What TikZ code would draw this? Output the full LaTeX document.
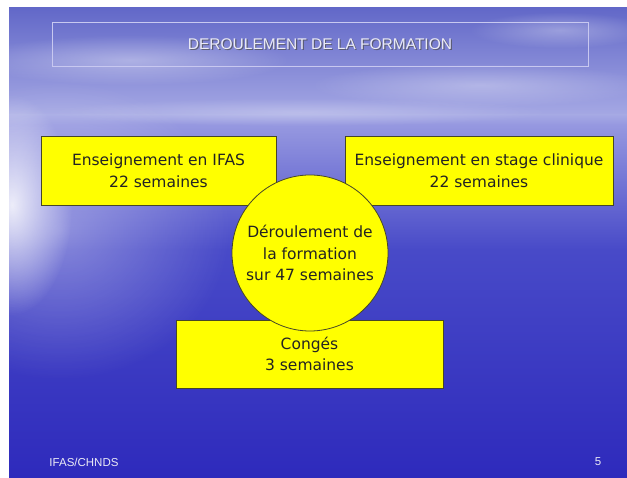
\documentclass[tikz,border=0pt]{standalone}
\usepackage{fontspec}
\setmainfont{DejaVu Sans}
\newfontfamily\arialf{Liberation Sans}
\usetikzlibrary{fadings,shadows}
\definecolor{skytop}{RGB}{98,104,200}
\definecolor{skyhor}{RGB}{165,168,228}
\definecolor{watertop}{RGB}{150,152,224}
\definecolor{watermid}{RGB}{72,74,200}
\definecolor{waterbot}{RGB}{46,42,188}
\definecolor{boxyellow}{RGB}{255,255,0}
\definecolor{boxedge}{RGB}{70,70,40}
\definecolor{txtdark}{RGB}{35,35,35}
\definecolor{titlecol}{RGB}{235,235,245}
\definecolor{frame}{RGB}{200,200,240}
\tikzfading[name=fuzzcirc, inner color=transparent!0, outer color=transparent!100]
\tikzset{
  yellowbox/.style={draw=boxedge, line width=0.8pt, fill=boxyellow, inner sep=0pt,
    align=center, text=txtdark, font=\fontsize{15.5}{21.5}\selectfont},
  yellowcirc/.style={yellowbox, circle},
  titletext/.style={text=titlecol, font=\arialf\fontsize{15.5}{18}\selectfont},
  foottext/.style={text=titlecol, font=\arialf\fontsize{11.5}{14}\selectfont}
}
\begin{document}
\begin{tikzpicture}[x=1pt,y=-1pt]
\useasboundingbox (0,0) rectangle (627,478);
\fill[white] (0,0) rectangle (627,478);
% background
\begin{scope}
\clip (9,8) rectangle (627,478);
\shade[top color=skytop, bottom color=skyhor] (9,8) rectangle (627,115);
\shade[top color=skyhor, bottom color=watertop] (9,115) rectangle (627,125);
\shade[top color=watertop, bottom color=watermid] (9,125) rectangle (627,250);
\shade[top color=watermid, bottom color=waterbot] (9,250) rectangle (627,478);
% clouds
\fill[white, opacity=0.35, path fading=fuzzcirc] (130,60) ellipse (160 and 25);
\fill[white, opacity=0.3, path fading=fuzzcirc] (480,85) ellipse (170 and 22);
\fill[white, opacity=0.3, path fading=fuzzcirc] (560,30) ellipse (90 and 18);
\fill[white, opacity=0.25, path fading=fuzzcirc] (300,112) ellipse (250 and 14);
% glow on the left
\fill[white, opacity=0.85, path fading=fuzzcirc] (12,205) ellipse (60 and 110);
\fill[white, opacity=0.35, path fading=fuzzcirc] (60,230) ellipse (170 and 150);
\end{scope}
% title
\node[draw=frame, line width=0.7pt, minimum width=536pt, minimum height=44pt, inner sep=0pt] (titlebox) at (320,44) {};
\node[titletext, text=black!70, opacity=0.7] (titleshadow) at (321.2,45.2) {DEROULEMENT DE LA FORMATION};
\node[titletext] (title) at (320,44) {DEROULEMENT DE LA FORMATION};
% boxes
\node[yellowbox, minimum width=235pt, minimum height=69pt] (ifas) at (158.5,170.5)
  {Enseignement en IFAS\\22 semaines};
\node[yellowbox, minimum width=268pt, minimum height=69pt] (stage) at (479,170.5)
  {Enseignement en stage clinique\\22 semaines};
\node[yellowbox, minimum width=267pt, minimum height=68pt] (conges) at (309.5,354)
  {Congés\\3 semaines};
\node[yellowcirc, minimum size=156pt] (centre) at (310,253)
  {Déroulement de\\la formation\\sur 47 semaines};
% footer
\node[foottext] (foot) at (84,462) {IFAS/CHNDS};
\node[foottext] (page) at (598,462) {5};
\end{tikzpicture}
\end{document}
